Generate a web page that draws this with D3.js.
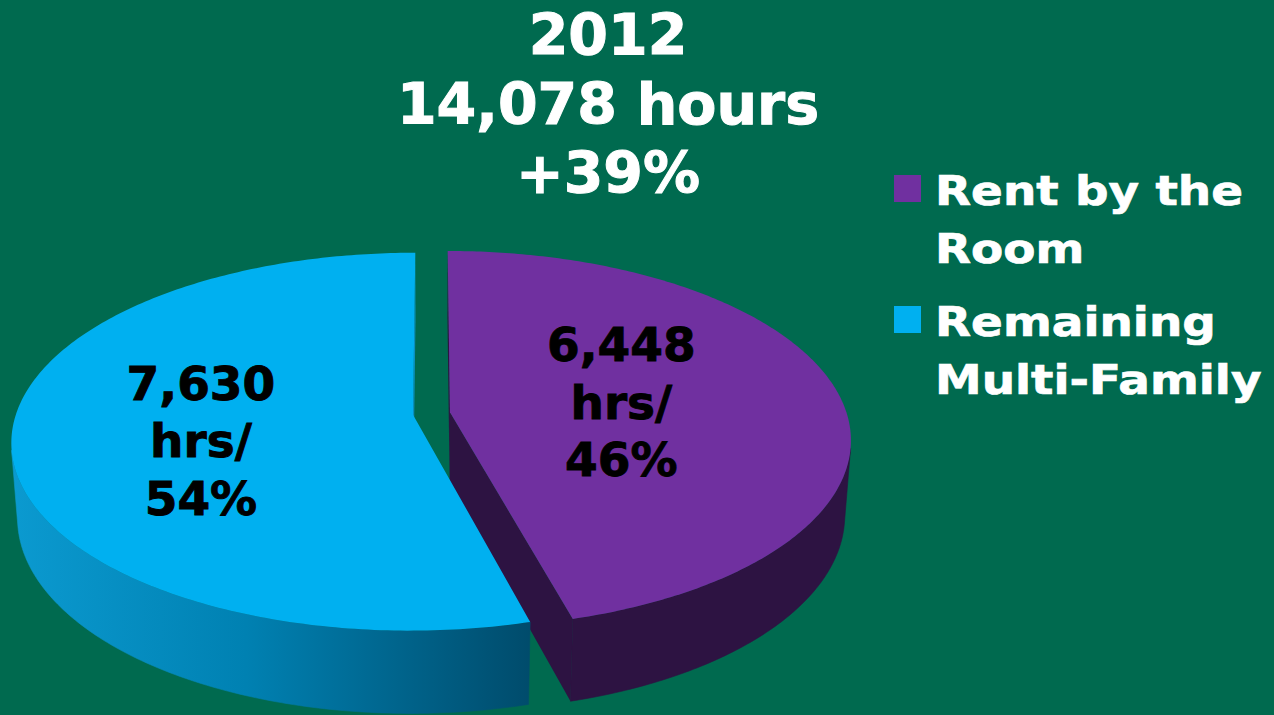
<!DOCTYPE html>
<html>
<head>
<meta charset="utf-8">
<script src="https://cdn.jsdelivr.net/npm/d3@7"></script>
<style>
  body { margin: 0; background: #006a4f; }
  text { font-family: "DejaVu Sans", Verdana, sans-serif; font-weight: bold; }
</style>
</head>
<body>
<svg id="chart" width="1274" height="715"></svg>
<script>
// data
const categories = ['Rent by the Room', 'Remaining Multi-Family']
const hours = [6448, 7630]
const shares = ['46%', '54%']
const titleLines = ['2012', '14,078 hours', '+39%']
const legendLines = [['Rent by the', 'Room'], ['Remaining', 'Multi-Family']]

const topColors = ['#7030a0', '#00b0f0']
const wallColors = ['#2d1342', 'url(#blueWall)']
const cutColors = ['#2d1342', '#0a8fc0']

// perspective camera for the tilted pie
const cam = { cx: 431.5, cy: 413.5, fx: 2480, fy: 2570, L: 6.25, tilt: 26.7 * Math.PI / 180 }
const sT = Math.sin(cam.tilt)
const cT = Math.cos(cam.tilt)
const thick = 0.205
const explode = 0.047
const labelPos = [{ r: 0.44, da: 0 }, { r: 0.54, da: -7 }]

function project (X, Y, Z) {
  const depth = cam.L - Y * sT - Z * cT
  const yc = Y * cT - Z * sT
  return [cam.cx + cam.fx * X / depth, cam.cy - cam.fy * yc / depth]
}
// camera position in world space, for back-face tests
const eye = [0, cam.L * sT, cam.L * cT]
function facing (n, p) {
  return n[0] * (eye[0] - p[0]) + n[1] * (eye[1] - p[1]) + n[2] * (eye[2] - p[2]) > 0
}

const svg = d3.select('#chart')
const line = d3.line()
const poly = pts => line(pts) + 'Z'

const arcs = d3.pie().sort(null)(hours)

let slices = arcs.map((a, i) => {
  let mid = (a.startAngle + a.endAngle) / 2
  let ox = explode * Math.sin(mid)
  let oz = -explode * Math.cos(mid)
  let n = 240
  let angs = d3.range(n + 1).map(k => a.startAngle + (a.endAngle - a.startAngle) * k / n)
  let rimTop = angs.map(t => project(ox + Math.sin(t), 0, oz - Math.cos(t)))
  let rimBot = angs.map(t => project(ox + Math.sin(t), -thick, oz - Math.cos(t)))
  return { a, i, mid, ox, oz, angs, rimTop, rimBot,
    apexTop: project(ox, 0, oz), apexBot: project(ox, -thick, oz) }
})

// gradient on the blue outer wall, light on the left, dark at the front-right
let blueX = d3.extent(slices[1].rimBot.concat(slices[1].rimTop), p => p[0])
let grad = svg.append('defs').append('linearGradient')
  .attr('id', 'blueWall')
  .attr('gradientUnits', 'userSpaceOnUse')
  .attr('x1', blueX[0]).attr('x2', slices[0].rimTop[slices[0].rimTop.length - 1][0] - 40)
  .attr('y1', 0).attr('y2', 0)
grad.selectAll('stop')
  .data([[0, '#0b9ad0'], [0.45, '#0081b2'], [1, '#004b6b']])
  .enter().append('stop')
  .attr('offset', d => d[0])
  .attr('stop-color', d => d[1])

const pie = svg.append('g')

// cut faces
slices.forEach(s => {
  let faces = [
    { t: s.a.startAngle, sign: -1, k: 0 },
    { t: s.a.endAngle, sign: 1, k: s.angs.length - 1 }
  ]
  faces.forEach(f => {
    let nrm = [f.sign * Math.cos(f.t), 0, f.sign * Math.sin(f.t)]
    if (!facing(nrm, [s.ox, 0, s.oz])) return
    pie.append('path')
      .attr('d', poly([s.apexTop, s.rimTop[f.k], s.rimBot[f.k], s.apexBot]))
      .attr('fill', cutColors[s.i])
  })
})

// outer walls, only the runs that face the viewer
slices.forEach(s => {
  let runs = []
  let cur = null
  for (let k = 0; k < s.angs.length - 1; k++) {
    let t = (s.angs[k] + s.angs[k + 1]) / 2
    let p = [s.ox + Math.sin(t), 0, s.oz - Math.cos(t)]
    let vis = facing([Math.sin(t), 0, -Math.cos(t)], p)
    if (vis) {
      if (!cur) { cur = [k, k + 1]; runs.push(cur) } else cur[1] = k + 1
    } else cur = null
  }
  runs.forEach(r => {
    let top = s.rimTop.slice(r[0], r[1] + 1)
    let bot = s.rimBot.slice(r[0], r[1] + 1).reverse()
    pie.append('path')
      .attr('d', poly(top.concat(bot)))
      .attr('fill', wallColors[s.i])
      .attr('stroke', wallColors[s.i])
      .attr('stroke-width', 0.6)
  })
})

// top faces
pie.selectAll('path.top')
  .data(slices)
  .enter().append('path')
  .attr('class', 'top')
  .attr('d', s => poly([s.apexTop].concat(s.rimTop)))
  .attr('fill', s => topColors[s.i])

// data labels
const fmt = d3.format(',')
slices.forEach(s => {
  let lp = labelPos[s.i]
  let t = s.mid + lp.da * Math.PI / 180
  let p = project(s.ox + lp.r * Math.sin(t), 0, s.oz - lp.r * Math.cos(t))
  let lines = [fmt(hours[s.i]), 'hrs/', shares[s.i]]
  svg.append('text')
    .attr('text-anchor', 'middle')
    .attr('font-size', 47)
    .attr('fill', '#000')
    .attr('stroke', '#000')
    .attr('stroke-width', 0.9)
    .selectAll('tspan')
    .data(lines)
    .enter().append('tspan')
    .attr('x', p[0])
    .attr('y', (d, j) => p[1] + 17 + (j - 1) * 57.5)
    .text(d => d)
})

// title
svg.append('text')
  .attr('text-anchor', 'middle')
  .attr('font-size', 57)
  .attr('fill', '#fff')
  .attr('stroke', '#fff')
  .attr('stroke-width', 1)
  .selectAll('tspan')
  .data(titleLines)
  .enter().append('tspan')
  .attr('x', 608)
  .attr('y', (d, j) => 55 + j * 69)
  .text(d => d)

// legend, glyphs a little wider than DejaVu, so stretch horizontally
const legend = svg.append('g')
legendLines.forEach((ls, i) => {
  let y0 = [175, 306][i]
  legend.append('rect')
    .attr('x', 894).attr('y', y0)
    .attr('width', 27).attr('height', 27)
    .attr('fill', topColors[i])
  legend.append('text')
    .attr('transform', 'translate(935,0) scale(1.13,1)')
    .attr('font-size', 41.5)
    .attr('fill', '#fff')
    .attr('stroke', '#fff')
    .attr('stroke-width', 0.7)
    .selectAll('tspan')
    .data(ls)
    .enter().append('tspan')
    .attr('x', 0)
    .attr('y', (d, j) => y0 + 30 + j * 58)
    .text(d => d)
})
</script>
</body>
</html>
